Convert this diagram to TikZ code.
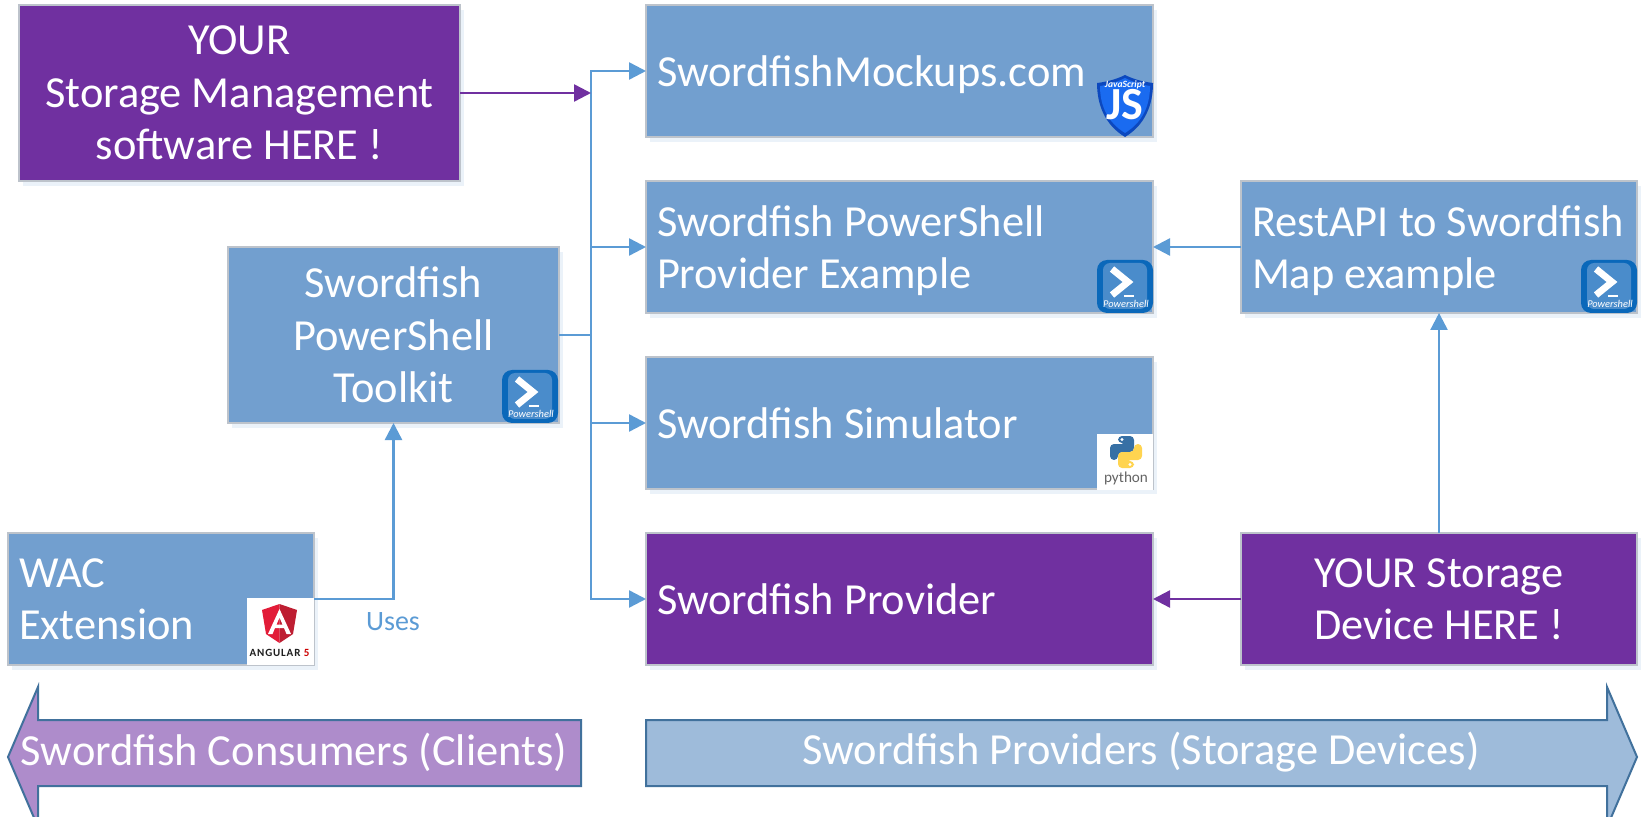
\documentclass[tikz,border=0pt]{standalone}
\usepackage{fontspec}
\setmainfont{Carlito}
\usetikzlibrary{arrows.meta,shadows,calc}
\definecolor{boxblue}{HTML}{729FCF}
\definecolor{boxpurple}{HTML}{7030A0}
\definecolor{boxedge}{HTML}{BDC3CB}
\definecolor{wire}{HTML}{5B9BD5}
\definecolor{arrowedge}{HTML}{41719C}
\definecolor{lilac}{HTML}{AE8CCB}
\definecolor{paleblue}{HTML}{9EBBDA}
\newcommand{\mainsize}{\fontsize{22.2}{26.2}\selectfont}
\newcommand{\nodepth}[1]{\raisebox{0pt}[\height][0pt]{#1}}
\tikzset{
  every node/.style={inner sep=0pt,outer sep=0pt},
  pxbox/.style 2 args={draw=boxedge,line width=1pt,text=white,font=\mainsize,
    minimum width=#1*0.5pt,minimum height=#2*0.5pt,anchor=north west,
    text width=#1*0.5pt-11pt,inner xsep=5.5pt,
    drop shadow={shadow xshift=2pt,shadow yshift=-2.5pt,opacity=.12,fill=wire}},
  bluebox/.style={fill=boxblue},
  purplebox/.style={fill=boxpurple,draw=boxedge},
  leftbox/.style={align=flush left},
  midbox/.style={align=flush center},
  wireb/.style={draw=wire,line width=1.2pt,-{Triangle[length=8.5pt,width=8.5pt]}},
  wireplain/.style={draw=wire,line width=1.2pt},
  wirep/.style={draw=boxpurple,line width=1.2pt,-{Triangle[length=8.5pt,width=8.5pt]}},
  bigarrow/.style={draw=arrowedge,line width=1pt,line join=miter},
  bigtext/.style={text=white,font=\mainsize}
}
% Powershell icon, 56x53 px
\newcommand{\psicon}[3]{%
\begin{scope}[shift={(#2,#3)}]
  \fill[rounded corners=5pt,fill={rgb,255:red,10;green,104;blue,186}] (0,0) rectangle (56,53);
  \fill[rounded corners=3.5pt,fill={rgb,255:red,74;green,140;blue,203}] (6,3) rectangle (50,49);
  \draw[white,line width=3.4pt,line join=miter] (15,9) -- (31,22) -- (15,35);
  \draw[white,line width=1.4pt] (27,36) -- (37,36);
  \node[text=white,font=\fontsize{5.2}{5}\selectfont\itshape] (#1) at (29,44) {Powershell};
\end{scope}}
\begin{document}
\begin{tikzpicture}[x=0.5pt,y=-0.5pt]
\clip (0,0) rectangle (1641,817);
\fill[white] (0,0) rectangle (1641,817);

\node[pxbox={441}{176},purplebox,midbox] (yours) at (19,5) {YOUR\\Storage Management\\software HERE !};
\node[pxbox={507}{132},bluebox,leftbox] (mock) at (646,5) {\nodepth{SwordfishMockups.com}};
\node[pxbox={507}{132},bluebox,leftbox] (psprov) at (646,181) {Swordfish PowerShell\\\nodepth{Provider Example}};
\node[pxbox={507}{132},bluebox,leftbox] (sim) at (646,357) {Swordfish Simulator};
\node[pxbox={507}{132},purplebox,leftbox] (prov) at (646,533) {Swordfish Provider};
\node[pxbox={396}{132},bluebox,leftbox] (rest) at (1241,181) {RestAPI to Swordfish\\\nodepth{Map example}};
\node[pxbox={396}{132},purplebox,midbox] (device) at (1241,533) {YOUR Storage\\Device HERE !};
\node[pxbox={331}{176},bluebox,midbox] (toolkit) at (228,247) {Swordfish\\PowerShell\\Toolkit};
\node[pxbox={306}{132},bluebox,leftbox] (wac) at (8,533) {WAC\\Extension};

\coordinate (trunk) at (591,335);
\draw[wireplain] (toolkit.east) -- (trunk);
\draw[wireb] (trunk) |- (mock.west);
\draw[wireb] (trunk) |- (psprov.west);
\draw[wireb] (trunk) |- (sim.west);
\draw[wireb] (trunk) |- (prov.west);
\draw[wirep] (yours.east) -- (yours.east -| trunk);
\draw[wireb] (rest.west) -- (psprov.east);
\draw[wireb] (device.north) -- (rest.south);
\draw[wirep] (device.west) -- (prov.east);
\draw[wireb] (wac.east) -| (toolkit.south);
\node[text=wire,font=\fontsize{14}{17}\selectfont] (uses) at (393,622) {Uses};

% big arrows
\path[bigarrow,fill=lilac] (8,757) -- (38,687) -- (38,720) -- (581,720) -- (581,786) -- (38,786) -- (38,827) -- cycle;
\node[bigtext] (consumers) at (294,752) {Swordfish Consumers (Clients)};
\path[bigarrow,fill=paleblue] (646,720) -- (1607,720) -- (1607,687) -- (1637,757) -- (1607,827) -- (1607,786) -- (646,786) -- cycle;
\node[bigtext] (providers) at (1141,752) {Swordfish Providers (Storage Devices)};

% icons
\psicon{psa}{502}{370}
\psicon{psb}{1097}{260}
\psicon{psc}{1581}{260}

% JavaScript shield
\begin{scope}[shift={(1097,75)}]
  \fill[fill={rgb,255:red,12;green,72;blue,190}] (28,0) .. controls (38,5) and (48,7) .. (56,8) .. controls (56,30) and (48,50) .. (28,62) .. controls (8,50) and (0,30) .. (0,8) .. controls (8,7) and (18,5) .. (28,0) -- cycle;
  \fill[fill={rgb,255:red,26;green,107;blue,240}] (28,3) .. controls (38,8) and (46,10) .. (53,11) .. controls (53,30) and (46,47) .. (28,58) .. controls (10,47) and (3,30) .. (3,11) .. controls (10,10) and (18,8) .. (28,3) -- cycle;
  \node[text=white,font=\fontsize{4.8}{5}\selectfont\bfseries\itshape] (jst) at (28,10) {JavaScript};
  \node[text=white,font=\fontsize{23}{23}\selectfont\bfseries] (js) at (28,30) {JS};
\end{scope}

% Python
\fill[white] (1097,434) rectangle (1153,490);
\begin{scope}[shift={(1110,436)}]
  \fill[fill={rgb,255:red,55;green,112;blue,165},rounded corners=2pt] (8,0) -- (24,0) -- (24,16) -- (8,16) -- (8,24) -- (0,24) -- (0,8) -- (16,8) -- (16,7) -- (8,7) -- cycle;
  \fill[fill={rgb,255:red,255;green,212;blue,80},rounded corners=2pt] (24,32) -- (8,32) -- (8,16) -- (24,16) -- (24,8) -- (32,8) -- (32,24) -- (16,24) -- (16,25) -- (24,25) -- cycle;
  \fill[white] (12,3.5) circle[radius=1.6];
  \fill[white] (20,28.5) circle[radius=1.6];
  \node[text={rgb,255:red,100;green,100;blue,100},font=\fontsize{7.6}{8}\selectfont] (pyt) at (16,42) {python};
\end{scope}

% Angular
\fill[white] (247,598) rectangle (314,665);
\begin{scope}[shift={(262,604)}]
  \fill[fill={rgb,255:red,226;green,28;blue,56}] (17.5,0) -- (0,6) -- (4,30) -- (17.5,39) -- cycle;
  \fill[fill={rgb,255:red,190;green,30;blue,50}] (17.5,0) -- (35,6) -- (31,30) -- (17.5,39) -- cycle;
  \fill[white,even odd rule] (17.5,5) -- (6,30) -- (10.5,30) -- (13,24) -- (22,24) -- (24.5,30) -- (29,30) -- cycle (17.5,13.5) -- (14.5,20.5) -- (20.5,20.5) -- cycle;
  \node[font=\fontsize{5.5}{6}\selectfont\bfseries,text={rgb,255:red,30;green,30;blue,30}] (ang) at (17.5,49) {\addfontfeatures{LetterSpace=8}ANGULAR \textcolor{red!80!black}{5}};
\end{scope}
\end{tikzpicture}
\end{document}
